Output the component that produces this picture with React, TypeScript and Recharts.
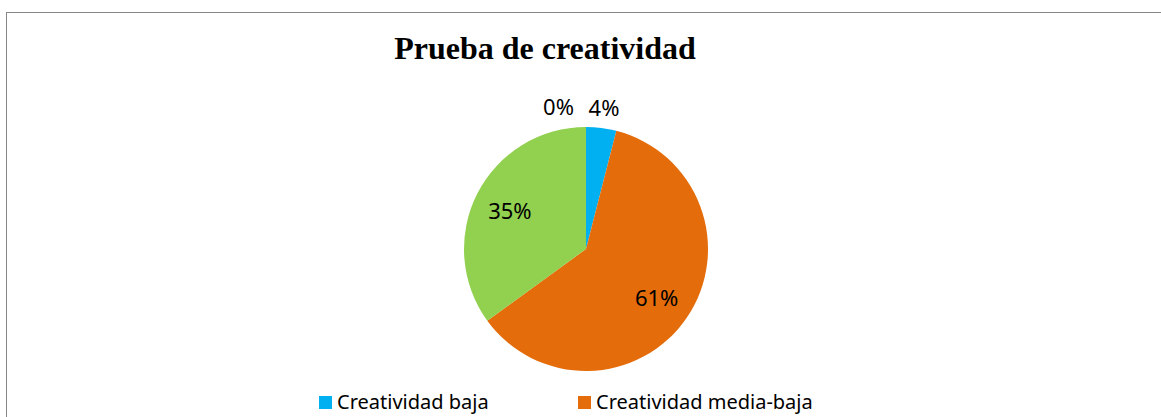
import { PieChart, Pie, Cell, Legend } from "recharts";

const categories = [
  "Creatividad baja",
  "Creatividad media-baja",
  "Creatividad media-alta",
  "Creatividad alta",
];
const shares = [4, 61, 35, 0];
const colors = ["#00B0F0", "#E46C0A", "#92D050", "#7030A0"];

const data = categories.map((name, i) => ({ name, value: shares[i] }));

const RADIAN = Math.PI / 180;

const renderLabel = (props: any) => {
  const { cx, cy, midAngle, outerRadius, percent, value } = props;
  const pct = Math.round(percent * 100);
  const small = pct < 5;
  const r = small ? outerRadius + 21.5 : outerRadius * 0.7;
  let x = cx + r * Math.cos(-midAngle * RADIAN);
  const y = cy + r * Math.sin(-midAngle * RADIAN);
  let anchor: "middle" | "end" = "middle";
  // Excel nudges the zero label to the left so it does not sit on the 4% one
  if (value === 0) {
    x -= 12;
    anchor = "end";
  }
  return (
    <text
      x={x}
      y={y}
      fill="#000"
      textAnchor={anchor}
      dominantBaseline="central"
      fontFamily="Noto Sans"
      fontSize={22}
    >
      {pct}%
    </text>
  );
};

// legend in data order, two slots per row; only the first row fits in the frame
const renderLegend = () => (
  <div
    style={{
      display: "flex",
      flexWrap: "wrap",
      width: 518,
      height: 34,
      paddingTop: 5,
      boxSizing: "border-box",
      overflow: "hidden",
    }}
  >
    {categories.map((name, i) => (
      <div
        key={name}
        style={{
          width: 259,
          height: 24,
          marginBottom: 16,
          display: "flex",
          alignItems: "center",
          fontFamily: "Noto Sans",
          fontSize: 20,
          lineHeight: "24px",
          color: "#000",
        }}
      >
        <span
          style={{
            width: 13,
            height: 13,
            background: colors[i],
            marginRight: 5,
            display: "inline-block",
          }}
        />
        <span>{name}</span>
      </div>
    ))}
  </div>
);

export default function App() {
  return (
    <div
      style={{
        position: "absolute",
        left: 6,
        top: 12,
        width: 1200,
        height: 440,
        border: "1px solid #878787",
        background: "#fff",
      }}
    >
      <PieChart width={1200} height={440} margin={{ top: 0, right: 0, bottom: 0, left: 0 }}>
        <text
          x={538}
          y={46}
          textAnchor="middle"
          fontFamily="Liberation Serif"
          fontWeight="bold"
          fontSize={32}
          fill="#000"
        >
          Prueba de creatividad
        </text>
        <Pie
          data={data}
          dataKey="value"
          nameKey="name"
          cx={579}
          cy={236}
          outerRadius={122}
          startAngle={90}
          endAngle={-270}
          stroke="none"
          label={renderLabel}
          labelLine={false}
          isAnimationActive={false}
        >
          {data.map((d, i) => (
            <Cell key={d.name} fill={colors[i]} />
          ))}
        </Pie>
        <Legend
          content={renderLegend}
          wrapperStyle={{ position: "absolute", left: 312, top: 372, width: 518 }}
        />
      </PieChart>
    </div>
  );
}
